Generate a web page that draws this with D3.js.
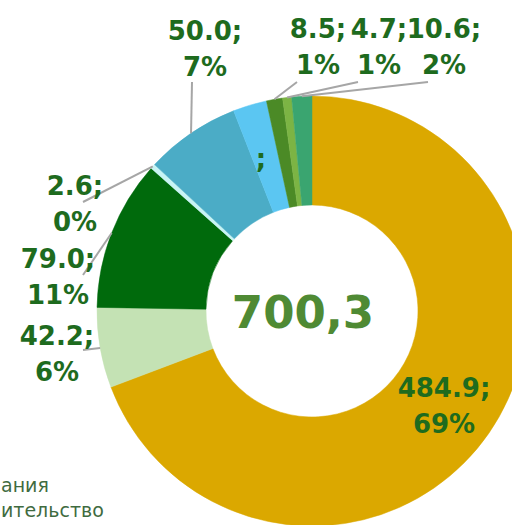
<!DOCTYPE html>
<html>
<head>
<meta charset="utf-8">
<script src="https://cdn.jsdelivr.net/npm/d3@7"></script>
<style>
  body { margin: 0; background: #fff; overflow: hidden; }
  svg { display: block; }
</style>
</head>
<body>
<div id="chart"></div>
<script>
// data
var values = [484.9, 42.2, 79.0, 2.6, 50.0, 17.8, 8.5, 4.7, 10.6];
var showValue = [true, true, true, true, true, false, true, true, true];
var totalLabel = "700,3";
// legend is only partly visible in the picture, keep the visible tails
var legendTails = ["ания", "ительство"];

var colors = ["#dba800", "#c4e2b4", "#006a0c", "#c8f4f4", "#4bacc6",
              "#5bc6f2", "#4b8a26", "#7cb444", "#3aa570"];

// label anchors (x, y of first line baseline), in the order of values
var labelPos = [
  [444, 397], [57, 345], [58, 268], [75, 195], [205, 40],
  [261, 168], [318, 38], [379, 38], [444, 38]
];
// where each leader line starts (null = no line)
var lineStart = [
  null, [83, 350], [83, 275], [83, 202], [192, 82],
  null, [297, 82], [358, 82], [428, 82]
];

var svgWidth = 512;
var svgHeight = 525;
var cx = 312, cy = 311;
var outerR = 215, innerR = 106;

var svg = d3.select("#chart")
  .append("svg")
  .attr("width", svgWidth)
  .attr("height", svgHeight);

var total = d3.sum(values);

var pie = d3.pie().sort(null).value(d => d);
var arcs = pie(values);

var arc = d3.arc().innerRadius(innerR).outerRadius(outerR);

var g = svg.append("g")
  .attr("transform", `translate(${cx}, ${cy})`);

g.selectAll("path.slice")
  .data(arcs)
  .enter()
  .append("path")
  .attr("class", "slice")
  .attr("d", arc)
  .attr("fill", (d, i) => colors[i])
  .attr("stroke", (d, i) => colors[i])
  .attr("stroke-width", 0.5);

// leader lines: from label to the middle of the slice's outer edge
arcs.forEach(function(d, i) {
  if (!lineStart[i]) return;
  var mid = (d.startAngle + d.endAngle) / 2;
  var ex = cx + outerR * Math.sin(mid);
  var ey = cy - outerR * Math.cos(mid);
  svg.append("line")
    .attr("x1", lineStart[i][0])
    .attr("y1", lineStart[i][1])
    .attr("x2", ex)
    .attr("y2", ey)
    .attr("stroke", "#a6a6a6")
    .attr("stroke-width", 2);
});

// data labels
var labels = svg.selectAll("text.lbl")
  .data(arcs)
  .enter()
  .append("text")
  .attr("class", "lbl")
  .attr("x", (d, i) => labelPos[i][0])
  .attr("y", (d, i) => labelPos[i][1])
  .attr("text-anchor", "middle")
  .attr("font-family", "DejaVu Sans")
  .attr("font-weight", "bold")
  .attr("font-size", "26px")
  .attr("fill", "#1e6b1e");

labels.each(function(d, i) {
  var t = d3.select(this);
  if (!showValue[i]) {
    t.text(";");
    return;
  }
  var pct = Math.round(d.value / total * 100) + "%";
  t.append("tspan")
    .attr("x", labelPos[i][0])
    .text(d.value.toFixed(1) + ";");
  t.append("tspan")
    .attr("x", labelPos[i][0])
    .attr("dy", 36)
    .text(pct);
});

// total in the hole
svg.append("text")
  .attr("x", 303)
  .attr("y", 328)
  .attr("text-anchor", "middle")
  .attr("font-family", "DejaVu Sans")
  .attr("font-weight", "bold")
  .attr("font-size", "45px")
  .attr("fill", "#4f8a34")
  .text(totalLabel);

// legend tails at bottom left
svg.selectAll("text.legend")
  .data(legendTails)
  .enter()
  .append("text")
  .attr("class", "legend")
  .attr("x", 1)
  .attr("y", (d, i) => 492 + i * 25)
  .attr("text-anchor", "start")
  .attr("font-family", "DejaVu Sans")
  .attr("font-size", "19px")
  .attr("fill", "#3f6b3f")
  .text(d => d);
</script>
</body>
</html>
